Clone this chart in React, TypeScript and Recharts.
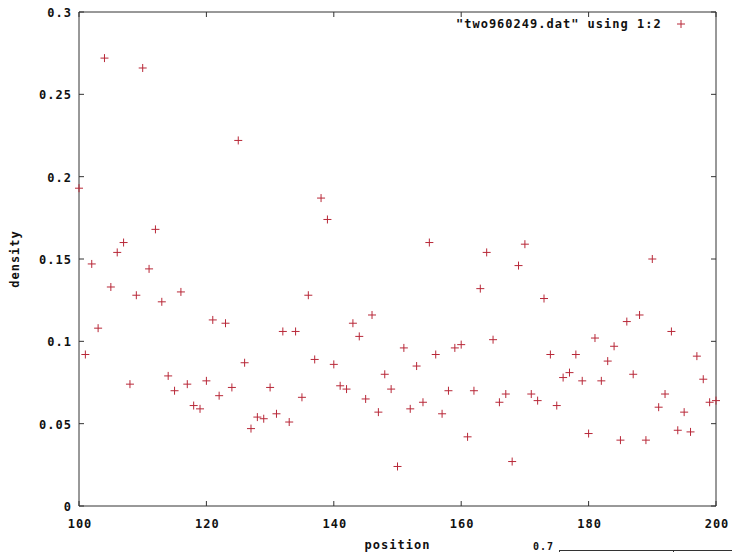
import React from 'react';
import { ScatterChart, Scatter, XAxis, YAxis, ReferenceArea } from 'recharts';

const positions = [
  100, 101, 102, 103, 104, 105, 106, 107, 108, 109,
  110, 111, 112, 113, 114, 115, 116, 117, 118, 119,
  120, 121, 122, 123, 124, 125, 126, 127, 128, 129,
  130, 131, 132, 133, 134, 135, 136, 137, 138, 139,
  140, 141, 142, 143, 144, 145, 146, 147, 148, 149,
  150, 151, 152, 153, 154, 155, 156, 157, 158, 159,
  160, 161, 162, 163, 164, 165, 166, 167, 168, 169,
  170, 171, 172, 173, 174, 175, 176, 177, 178, 179,
  180, 181, 182, 183, 184, 185, 186, 187, 188, 189,
  190, 191, 192, 193, 194, 195, 196, 197, 198, 199,
  200,
];

const density = [
  0.193, 0.092, 0.147, 0.108, 0.272, 0.133, 0.154, 0.160, 0.074, 0.128,
  0.266, 0.144, 0.168, 0.124, 0.079, 0.070, 0.130, 0.074, 0.061, 0.059,
  0.076, 0.113, 0.067, 0.111, 0.072, 0.222, 0.087, 0.047, 0.054, 0.053,
  0.072, 0.056, 0.106, 0.051, 0.106, 0.066, 0.128, 0.089, 0.187, 0.174,
  0.086, 0.073, 0.071, 0.111, 0.103, 0.065, 0.116, 0.057, 0.080, 0.071,
  0.024, 0.096, 0.059, 0.085, 0.063, 0.160, 0.092, 0.056, 0.070, 0.096,
  0.098, 0.042, 0.070, 0.132, 0.154, 0.101, 0.063, 0.068, 0.027, 0.146,
  0.159, 0.068, 0.064, 0.126, 0.092, 0.061, 0.078, 0.081, 0.092, 0.076,
  0.044, 0.102, 0.076, 0.088, 0.097, 0.040, 0.112, 0.080, 0.116, 0.040,
  0.150, 0.060, 0.068, 0.106, 0.046, 0.057, 0.045, 0.091, 0.077, 0.063,
  0.064,
];

const xTicks = [100, 120, 140, 160, 180, 200];
const yTicks = [0, 0.05, 0.1, 0.15, 0.2, 0.25, 0.3];
const yTickLabels = ['0', '0.05', '0.1', '0.15', '0.2', '0.25', '0.3'];
const legendLabel = '"two960249.dat" using 1:2';
const xLabel = 'position';
const yLabel = 'density';
const fragmentLabel = '0.7';

const data = positions.map((p, i) => ({ x: p, y: density[i] }));

const W = 732;
const H = 552;
const M = { top: 12, right: 16, bottom: 16, left: 19 };
const PLOT_TOP = M.top;
const PLOT_RIGHT = W - M.right;
const TICK = 5;
const FONT = '"DejaVu Sans Mono", monospace';
const TEXT = '#111';
const FRAME = '#333';
const POINT = '#b82838';

const textStyle = {
  fontFamily: FONT,
  fontWeight: 'bold' as const,
  fontSize: 12,
  letterSpacing: '1px',
};

const BottomTick = (props: any) => {
  const { x, y, payload } = props;
  return (
    <g>
      <line x1={x} x2={x} y1={y} y2={y - TICK} stroke={FRAME} strokeWidth={1} />
      <line x1={x} x2={x} y1={PLOT_TOP} y2={PLOT_TOP + TICK} stroke={FRAME} strokeWidth={1} />
      <text x={x + 1} y={y + 18} textAnchor="middle" dominantBaseline="central" fill={TEXT} style={textStyle}>
        {String(payload.value)}
      </text>
    </g>
  );
};

const LeftTick = (props: any) => {
  const { x, y, payload, index } = props;
  const label = yTickLabels[yTicks.indexOf(payload.value)] ?? yTickLabels[index] ?? String(payload.value);
  return (
    <g>
      <line x1={x} x2={x + TICK} y1={y} y2={y} stroke={FRAME} strokeWidth={1} />
      <line x1={PLOT_RIGHT} x2={PLOT_RIGHT - TICK} y1={y} y2={y} stroke={FRAME} strokeWidth={1} />
      <text x={x - 7} y={y + 1} textAnchor="end" dominantBaseline="central" fill={TEXT} style={textStyle}>
        {label}
      </text>
    </g>
  );
};

const PlusShape = (props: any) => {
  const { cx, cy } = props;
  if (cx == null || cy == null) return null;
  return (
    <g>
      <line x1={cx - 4} x2={cx + 4} y1={cy} y2={cy} stroke={POINT} strokeWidth={1} />
      <line x1={cx} x2={cx} y1={cy - 4} y2={cy + 4} stroke={POINT} strokeWidth={1} />
    </g>
  );
};

const XLabelContent = (props: any) => {
  const vb = props.viewBox || {};
  const cx = (vb.x ?? 0) + (vb.width ?? 0) / 2;
  const y = (vb.y ?? 0) + 39;
  return (
    <text x={cx} y={y} textAnchor="middle" dominantBaseline="central" fill={TEXT} style={textStyle}>
      {xLabel}
    </text>
  );
};

const YLabelContent = (props: any) => {
  const vb = props.viewBox || {};
  const cy = (vb.y ?? 0) + (vb.height ?? 0) / 2;
  const x = 15;
  return (
    <text
      x={x}
      y={cy}
      transform={`rotate(-90 ${x} ${cy})`}
      textAnchor="middle"
      dominantBaseline="central"
      fill={TEXT}
      style={textStyle}
    >
      {yLabel}
    </text>
  );
};

export default function App() {
  return (
    <div style={{ position: 'absolute', left: 0, top: 0, width: W, height: H, background: '#fff' }}>
      <ScatterChart width={W} height={H} margin={M}>
        <XAxis
          dataKey="x"
          type="number"
          domain={[100, 200]}
          ticks={xTicks}
          interval={0}
          tickLine={false}
          axisLine={false}
          tickSize={0}
          tickMargin={0}
          height={30}
          tick={<BottomTick />}
          label={<XLabelContent />}
        />
        <YAxis
          dataKey="y"
          type="number"
          domain={[0, 0.3]}
          ticks={yTicks}
          interval={0}
          tickLine={false}
          axisLine={false}
          tickSize={0}
          tickMargin={0}
          width={60}
          tick={<LeftTick />}
          label={<YLabelContent />}
        />
        <ReferenceArea
          x1={100}
          x2={200}
          y1={0}
          y2={0.3}
          fill="none"
          fillOpacity={0}
          stroke={FRAME}
          strokeWidth={1}
          ifOverflow="visible"
        />
        <Scatter data={data} shape={<PlusShape />} isAnimationActive={false} />
      </ScatterChart>
      <svg
        width={W}
        height={H}
        style={{ position: 'absolute', left: 0, top: 0, pointerEvents: 'none' }}
      >
        <text x={456} y={24} dominantBaseline="central" fill={TEXT} style={textStyle}>
          {legendLabel}
        </text>
        <line x1={677} x2={685} y1={24} y2={24} stroke={POINT} strokeWidth={1} />
        <line x1={681} x2={681} y1={20} y2={28} stroke={POINT} strokeWidth={1} />
        <text x={554} y={546} textAnchor="end" dominantBaseline="central" fill={TEXT} style={{ ...textStyle, fontSize: 10 }}>
          {fragmentLabel}
        </text>
        <line x1={559} x2={W} y1={550.5} y2={550.5} stroke={FRAME} strokeWidth={1} />
        <line x1={559.5} x2={559.5} y1={550} y2={H} stroke={FRAME} strokeWidth={1} />
        <line x1={673.5} x2={673.5} y1={550} y2={H} stroke={FRAME} strokeWidth={1} />
      </svg>
    </div>
  );
}
